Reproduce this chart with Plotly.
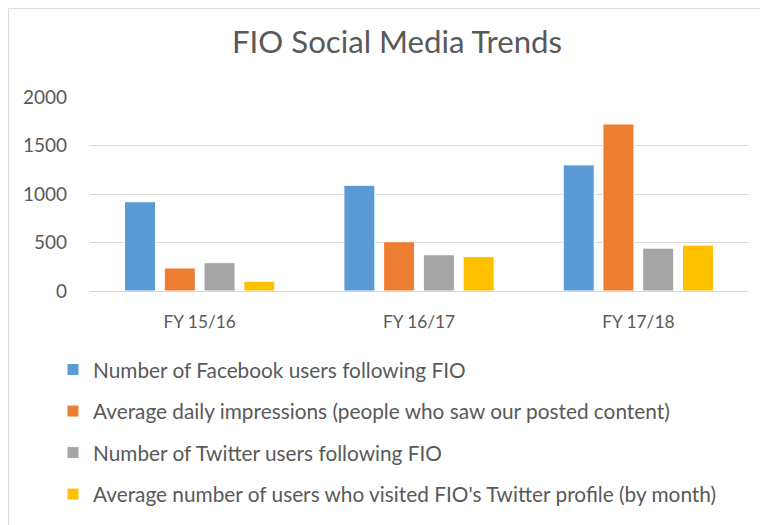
import plotly.graph_objects as go

categories = ["FY 15/16", "FY 16/17", "FY 17/18"]
series_names = [
    "Number of Facebook users following FIO",
    "Average daily impressions (people who saw our posted content)",
    "Number of Twitter users following FIO",
    "Average number of users who visited FIO's Twitter profile (by month)",
]
facebook_users = [920, 1090, 1300]
daily_impressions = [237, 508, 1722]
twitter_users = [292, 374, 442]
twitter_visits = [100, 354, 473]
y_ticks = [0, 500, 1000, 1500, 2000]

colors = ["#5B9BD5", "#ED7D31", "#A5A5A5", "#FFC000"]
values = [facebook_users, daily_impressions, twitter_users, twitter_visits]

FONT = "Lato"
TXT = "#595959"

fig = go.Figure()
for i, (name, vals) in enumerate(zip(series_names, values)):
    fig.add_trace(go.Bar(
        x=categories, y=vals, name=name,
        marker=dict(color=colors[i], line=dict(color="white", width=1)),
        legendgroup=f"g{i}",
    ))

W, H = 768, 525
L, T = 82, 89
pw, ph = 658, 194.4
R = W - L - pw
B = H - T - ph
bottom = T + ph

fig.update_layout(
    width=W, height=H,
    margin=dict(l=L, r=R, t=T, b=B, pad=0, autoexpand=False),
    paper_bgcolor="white", plot_bgcolor="white",
    font=dict(family=FONT, color=TXT, size=17),
    title=dict(text="FIO Social Media Trends", x=(389 - L) / pw, xref="paper",
               y=1 - 34 / H, yanchor="middle", xanchor="center",
               font=dict(family=FONT, size=31.2, color=TXT)),
    barmode="group", bargap=0.275, bargroupgap=0.22,
    showlegend=True,
    legend=dict(orientation="v", x=(45 - L) / pw, xanchor="left",
                y=-(342 - bottom) / ph, yanchor="top",
                font=dict(family=FONT, size=20.8, color=TXT),
                tracegroupgap=11.5, traceorder="grouped",
                itemwidth=30, bgcolor="rgba(0,0,0,0)"),
    shapes=[dict(type="rect", xref="paper", yref="paper",
                 x0=(0.5 - L) / pw, x1=(W + 20 - L) / pw,
                 y0=-(H + 20 - bottom) / ph, y1=(bottom - 0.5) / ph,
                 line=dict(color="#D9D9D9", width=1), fillcolor="rgba(0,0,0,0)",
                 layer="below")],
)
fig.update_xaxes(showgrid=False, showline=True, linecolor="#D9D9D9", linewidth=1,
                 ticks="", ticklabelstandoff=15,
                 tickfont=dict(family=FONT, size=17.3, color=TXT))
fig.update_yaxes(range=[0, 2000], tickvals=y_ticks, showgrid=True, gridcolor="#D9D9D9",
                 gridwidth=1, zeroline=False, showline=False, ticks="",
                 ticklabelstandoff=22,
                 tickfont=dict(family=FONT, size=19, color=TXT))

fig.write_html("out.html")
